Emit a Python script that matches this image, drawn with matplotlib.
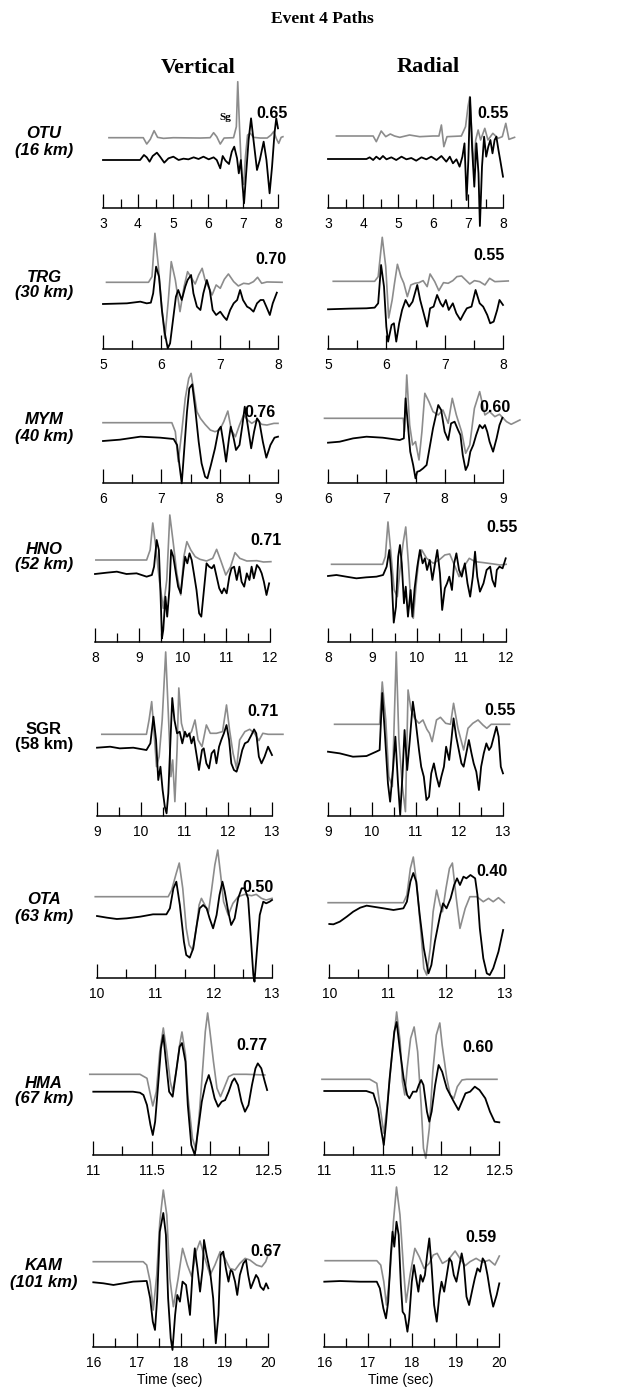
import matplotlib
matplotlib.use("Agg")
import matplotlib.pyplot as plt
from matplotlib import font_manager
import numpy as np

# ---- data -------------------------------------------------------------
stations = ["OTU", "TRG", "MYM", "HNO", "SGR", "OTA", "HMA", "KAM"]
dist_km = [16, 30, 40, 52, 58, 63, 67, 101]
cc_vertical = [0.65, 0.70, 0.76, 0.71, 0.71, 0.50, 0.77, 0.67]
cc_radial = [0.55, 0.55, 0.60, 0.55, 0.55, 0.40, 0.60, 0.59]
t_ranges = [(3, 8), (5, 8), (6, 9), (8, 12), (9, 13), (10, 13), (11, 12.5), (16, 20)]
tick_steps = [1, 1, 1, 1, 1, 1, 0.5, 1]

# synthetic (gray) and observed (black) traces, time in s, amplitude in counts
otu_z_syn_t = [3.17, 4.15, 4.25, 4.35, 4.46, 4.56, 4.73, 5.01, 5.78, 6.06, 6.16, 6.25, 6.35, 6.46, 6.73, 6.81,
               6.85, 6.90, 6.96, 7.02, 7.07, 7.13, 7.21, 7.30, 7.49, 7.69, 7.80, 7.88, 7.95, 8.02, 8.09, 8.14]
otu_z_syn_a = [0, 0, -19, -5, 21, 1, -2, 0, -1, 0, 15, 3, -19, -1, 0, 33,
               168, 33, -107, -140, -57, 8, 13, 1, -1, -1, 8, 19, -2, -17, 1, 3]
otu_z_obs_t = [3.00, 4.06, 4.17, 4.25, 4.33, 4.42, 4.54, 4.63, 4.75, 4.87, 5.01, 5.16, 5.30, 5.44, 5.59,
               5.73, 5.87, 6.02, 6.16, 6.25, 6.35, 6.42, 6.50, 6.60, 6.68, 6.75, 6.83, 6.88, 6.94, 6.99,
               7.03, 7.09, 7.16, 7.23, 7.30, 7.40, 7.48, 7.59, 7.67, 7.76, 7.83, 7.90, 7.95, 8.00]
otu_z_obs_a = [0, 0, 15, 8, -5, 12, 22, 10, -8, 5, 10, 0, 4, 2, 8,
               3, 10, 2, 8, 0, -25, 12, -2, -12, 25, 40, 5, -40, 0, -80,
               -130, -40, 60, 125, 60, -30, 0, 55, 0, -100, -20, 80, 125, 95]
otu_r_syn_t = [3.24, 4.29, 4.38, 4.52, 4.65, 4.78, 4.90, 5.05, 5.33, 5.62, 6.00, 6.17, 6.24, 6.31, 6.40, 6.81,
               6.93, 7.00, 7.05, 7.10, 7.16, 7.22, 7.29, 7.36, 7.48, 7.57, 7.71, 7.86, 7.98, 8.08, 8.17, 8.33]
otu_r_syn_a = [0, 0, -17, 15, -2, 6, 0, -4, 3, -2, 0, 0, 33, -32, -2, 0,
               28, 88, 118, 28, -92, -12, 18, -12, 23, -12, 8, -7, -2, 38, -10, -4]
otu_r_obs_t = [3.00, 4.10, 4.19, 4.29, 4.38, 4.48, 4.57, 4.67, 4.81, 4.95, 5.10, 5.24, 5.38, 5.52, 5.67,
               5.81, 5.95, 6.10, 6.24, 6.38, 6.48, 6.57, 6.67, 6.76, 6.84, 6.90, 6.96, 7.01, 7.06, 7.12,
               7.18, 7.24, 7.30, 7.34, 7.40, 7.46, 7.52, 7.58, 7.64, 7.70, 7.76, 7.81, 7.87, 7.92, 8.00]
otu_r_obs_a = [0, 0, 5, -3, 7, -1, 9, -1, 5, -3, 7, -1, 3, -5, 5,
               -1, 7, -3, 9, -8, 7, -13, -1, -23, 7, 47, -123, -3, 185, 27,
               -83, 47, -43, -201, -23, 67, 7, 37, 57, 17, 57, 67, 27, -3, -53]

trg_z_syn_t = [5.06, 5.78, 5.84, 5.89, 5.95, 6.01, 6.06, 6.12, 6.17, 6.24, 6.32, 6.39, 6.45, 6.52, 6.58, 6.64,
               6.70, 6.75, 6.81, 6.87, 6.94, 7.01, 7.08, 7.15, 7.24, 7.32, 7.41, 7.50, 7.58, 7.65, 7.72, 7.81, 8.07]
trg_z_syn_a = [0, 0, 17, 147, 47, -83, -168, -53, 62, 7, -88, -13, 32, 12, -5, 22,
               42, 7, -15, -38, -8, -18, 9, 25, 2, -11, -3, -5, 2, 15, -3, 1, 0]
trg_z_obs_t = [5.00, 5.41, 5.64, 5.75, 5.82, 5.86, 5.91, 5.96, 6.01, 6.06, 6.11, 6.15, 6.20, 6.25, 6.29,
               6.35, 6.41, 6.45, 6.51, 6.55, 6.61, 6.67, 6.72, 6.78, 6.83, 6.88, 6.94, 7.01, 7.07, 7.12,
               7.18, 7.24, 7.30, 7.35, 7.40, 7.47, 7.52, 7.58, 7.64, 7.70, 7.75, 7.80, 7.86, 7.91, 7.98]
trg_z_obs_a = [0, 2, 7, 2, 4, 32, 112, 82, -18, -88, -133, -118, -48, 22, 42,
               12, 52, 72, 87, 32, -8, -18, 32, 72, 42, -18, -33, -23, -38, -48,
               -18, 2, 12, 42, 12, -8, -13, -23, 2, 12, 12, -8, -33, 2, 34]
trg_r_syn_t = [5.09, 5.80, 5.86, 5.93, 5.99, 6.04, 6.10, 6.14, 6.19, 6.25, 6.30, 6.36, 6.42, 6.49, 6.56, 6.63,
               6.70, 6.75, 6.83, 6.90, 6.98, 7.06, 7.14, 7.21, 7.29, 7.36, 7.43, 7.51, 7.60, 7.69, 7.77, 7.86, 8.09]
trg_r_syn_a = [0, 0, 14, 132, 44, -110, -56, -6, 51, 14, -6, -46, -11, -6, -4, 2,
               -16, 22, -1, -28, -4, -6, 2, 14, 16, 4, -8, 2, -1, -11, 9, -1, 1]
trg_r_obs_t = [5.00, 5.37, 5.66, 5.80, 5.86, 5.91, 5.96, 6.00, 6.03, 6.09, 6.13, 6.17, 6.22, 6.27, 6.33,
               6.39, 6.45, 6.53, 6.58, 6.64, 6.70, 6.75, 6.81, 6.87, 6.93, 6.97, 7.02, 7.07, 7.14, 7.20,
               7.27, 7.33, 7.38, 7.46, 7.53, 7.60, 7.66, 7.73, 7.78, 7.84, 7.90, 7.94, 8.00]
trg_r_obs_a = [0, 2, 3, 5, 18, 133, 68, -52, -97, -47, -42, -97, -42, -2, 28,
               8, 23, 73, 28, -12, -52, 3, 8, 43, 18, 8, 28, -2, 18, -12,
               -32, -12, 3, 8, 58, 18, 8, -17, -42, -37, -2, 28, 13]

mym_z_syn_t = [6.00, 7.18, 7.24, 7.29, 7.35, 7.41, 7.47, 7.51, 7.55, 7.61, 7.67, 7.75, 7.84, 7.92,
               8.00, 8.07, 8.14, 8.20, 8.27, 8.34, 8.41, 8.48, 8.55, 8.64, 8.72, 8.81, 8.93, 9.00]
mym_z_syn_a = [0, 0, -27, -117, -27, 73, 133, 148, 103, 33, 13, -5, -22, -27,
               -22, 3, 35, -22, -42, -7, 23, 8, -2, 8, -5, -7, -2, -2]
mym_z_obs_t = [6.00, 6.29, 6.64, 6.98, 7.21, 7.27, 7.31, 7.35, 7.39, 7.44, 7.48, 7.53, 7.58, 7.64,
               7.69, 7.75, 7.79, 7.85, 7.92, 7.98, 8.02, 8.07, 8.11, 8.16, 8.19, 8.24, 8.28, 8.34,
               8.39, 8.43, 8.48, 8.54, 8.59, 8.64, 8.68, 8.74, 8.80, 8.87, 8.94, 9.00]
mym_z_obs_a = [0, 4, 13, 10, 6, -12, -72, -127, -32, 88, 158, 170, 98, -2,
               -67, -107, -112, -72, -22, 33, 43, -12, -62, 8, 43, 8, -27, -12,
               48, 103, 48, -22, 28, 68, 58, -2, -50, -12, 10, 13]
mym_r_syn_t = [5.94, 7.29, 7.31, 7.35, 7.40, 7.45, 7.50, 7.56, 7.61, 7.66, 7.73, 7.80, 7.89, 7.97, 8.06,
               8.13, 8.20, 8.29, 8.36, 8.43, 8.51, 8.60, 8.69, 8.77, 8.86, 8.94, 9.06, 9.14, 9.29]
mym_r_syn_a = [0, 0, -40, 130, -20, -80, -70, -125, -40, 75, 50, 20, 10, 25, -15,
               60, 10, -40, -105, -80, 30, 80, 10, 20, 5, 12, -10, -18, -5]
mym_r_obs_t = [6.00, 6.20, 6.43, 6.66, 6.94, 7.23, 7.30, 7.33, 7.37, 7.41, 7.46, 7.50, 7.53, 7.57,
               7.63, 7.69, 7.74, 7.80, 7.89, 7.94, 8.00, 8.06, 8.11, 8.17, 8.23, 8.27, 8.31, 8.36,
               8.40, 8.44, 8.49, 8.54, 8.60, 8.65, 8.69, 8.73, 8.77, 8.83, 8.89, 8.94, 8.99]
mym_r_obs_a = [0, 3, 13, 18, 15, 8, 13, 133, 53, -27, -67, -107, -87, -85,
               -77, -67, -17, 43, 113, 98, 33, 8, 58, 63, 38, 23, -37, -82,
               -67, -27, -7, 23, 53, 43, 53, 33, 3, -27, 13, 53, 75]

hno_z_syn_t = [8.02, 9.18, 9.26, 9.32, 9.39, 9.47, 9.56, 9.64, 9.71, 9.79, 9.87, 9.96, 10.03, 10.10, 10.19,
               10.29, 10.40, 10.55, 10.69, 10.78, 10.87, 10.99, 11.10, 11.20, 11.31, 11.47, 11.70, 11.85, 12.02]
hno_z_syn_a = [0, 0, 30, 111, 40, -60, -145, -60, 135, 50, -40, -105, 10, 55, 30,
               10, 2, -3, 5, 32, 0, -45, -20, 22, 5, -3, -2, -6, -5]
hno_z_obs_t = [8.00, 8.27, 8.50, 8.72, 8.95, 9.18, 9.30, 9.35, 9.41, 9.46, 9.50, 9.53, 9.56, 9.61, 9.65,
               9.70, 9.74, 9.79, 9.85, 9.90, 9.96, 10.02, 10.06, 10.11, 10.16, 10.21, 10.26, 10.32, 10.38,
               10.43, 10.49, 10.55, 10.61, 10.67, 10.72, 10.78, 10.84, 10.90, 10.95, 11.01, 11.07, 11.12,
               11.18, 11.24, 11.30, 11.35, 11.41, 11.47, 11.53, 11.58, 11.63, 11.70, 11.76, 11.81, 11.86,
               11.92, 11.98]
hno_z_obs_a = [0, 4, 7, 0, 2, -8, -3, 22, 102, 72, -68, -193, -168, -68, -128,
               -48, 72, 52, 2, -38, -58, 12, 52, 32, 62, 42, 2, -48, -118,
               -128, -48, 32, 22, 17, 27, -8, -43, -58, -43, -58, -8, 17,
               22, -18, 22, -23, -38, 2, -18, 22, -13, 27, 17, 2, -23,
               -63, -28]
hno_r_syn_t = [8.08, 9.23, 9.29, 9.35, 9.41, 9.49, 9.56, 9.62, 9.69, 9.75, 9.81, 9.87, 9.92, 9.98, 10.05,
               10.11, 10.22, 10.37, 10.52, 10.63, 10.74, 10.86, 10.95, 11.06, 11.18, 11.31, 11.50, 11.72,
               11.87, 12.01]
hno_r_syn_a = [0, 0, 23, 127, 43, -77, -97, -17, 63, 112, 3, -127, -162, -67, 23,
               43, 18, 3, 15, 28, 31, -7, -37, -7, 18, 8, 5, 1,
               -2, 0]
hno_r_obs_t = [8.00, 8.19, 8.41, 8.64, 8.86, 9.09, 9.24, 9.32, 9.38, 9.43, 9.48, 9.53, 9.58, 9.62, 9.66,
               9.71, 9.75, 9.80, 9.86, 9.90, 9.95, 10.01, 10.07, 10.13, 10.18, 10.23, 10.29, 10.35, 10.41,
               10.46, 10.52, 10.57, 10.63, 10.68, 10.73, 10.79, 10.84, 10.89, 10.95, 11.01, 11.08, 11.14,
               11.20, 11.26, 11.31, 11.36, 11.42, 11.50, 11.57, 11.65, 11.70, 11.76, 11.80, 11.86, 11.93,
               12.00]
hno_r_obs_a = [0, 3, -2, -7, -4, -2, 3, 28, 78, -2, -140, -92, 58, 93, 38,
               -82, -32, -122, -42, -122, -37, 28, 78, 38, 53, 18, 48, -12, 38,
               78, 8, -102, -37, -22, -2, -42, 38, 68, 18, -2, 38, -22,
               -62, -2, 73, -2, -47, -22, 18, 28, -12, -32, 18, 28, 23,
               53]

sgr_z_syn_t = [9.11, 10.13, 10.19, 10.25, 10.30, 10.36, 10.42, 10.49, 10.57, 10.63, 10.69, 10.73, 10.78,
               10.83, 10.87, 10.93, 11.01, 11.08, 11.16, 11.24, 11.31, 11.40, 11.50, 11.59, 11.73, 11.87,
               11.96, 12.03, 12.11, 12.19, 12.26, 12.38, 12.49, 12.60, 12.70, 12.79, 12.91, 13.25]
sgr_z_syn_a = [0, 0, 43, 98, 13, -97, -67, 43, 247, 63, -127, -77, -202,
               -47, 139, 33, -7, -5, 8, 43, -17, -37, 28, 3, 3, 8,
               88, 13, -57, -102, -17, 8, 15, 3, -19, 3, 0, 0]
sgr_z_obs_t = [9.00, 9.30, 9.52, 9.83, 10.13, 10.22, 10.29, 10.35, 10.40, 10.45, 10.50, 10.55, 10.59,
               10.63, 10.67, 10.72, 10.77, 10.83, 10.89, 10.95, 11.01, 11.06, 11.11, 11.16, 11.21, 11.27,
               11.33, 11.40, 11.44, 11.50, 11.56, 11.62, 11.68, 11.73, 11.79, 11.84, 11.90, 11.96, 12.02,
               12.07, 12.13, 12.19, 12.25, 12.32, 12.38, 12.45, 12.53, 12.59, 12.64, 12.70, 12.76, 12.83,
               12.91, 13.00]
sgr_z_obs_a = [0, 3, -2, 0, -7, 13, 93, 23, -97, -57, -127, -177, -197,
               -137, -7, 149, 83, 43, 48, 13, 48, 33, 43, 13, 33, -17,
               -67, -7, -2, -47, -62, -17, -7, -47, 3, 23, 43, 68, 23,
               -47, -67, -72, -47, -7, 13, 18, 38, 55, 43, -27, -47, -27,
               3, -22]
sgr_r_syn_t = [9.15, 10.18, 10.24, 10.32, 10.39, 10.47, 10.56, 10.62, 10.70, 10.77, 10.83, 10.90, 10.98,
               11.08, 11.17, 11.26, 11.32, 11.38, 11.48, 11.57, 11.69, 11.80, 11.87, 11.97, 12.10, 12.20,
               12.31, 12.43, 12.54, 12.63, 12.73, 13.15]
sgr_r_syn_a = [0, 0, 127, 13, -157, -187, 217, -47, -187, -262, 103, 43, 18,
               3, 13, -15, -27, -52, 13, 21, 3, 0, 63, -12, -77, -12,
               3, 13, -2, -12, 0, 0]
sgr_r_obs_t = [9.00, 9.27, 9.57, 9.88, 10.10, 10.18, 10.24, 10.30, 10.37, 10.42, 10.49, 10.54, 10.60,
               10.65, 10.70, 10.75, 10.81, 10.87, 10.94, 11.00, 11.08, 11.13, 11.19, 11.25, 11.31, 11.36,
               11.42, 11.48, 11.54, 11.59, 11.65, 11.70, 11.77, 11.82, 11.87, 11.93, 11.99, 12.05, 12.10,
               12.16, 12.22, 12.28, 12.33, 12.39, 12.45, 12.50, 12.56, 12.62, 12.68, 12.73, 12.79, 12.85,
               12.90, 12.95, 13.00]
sgr_r_obs_a = [0, -5, -15, -13, 0, 5, 176, 55, -95, -150, -45, 45, -95,
               -190, -75, 65, -55, 35, 150, 95, 5, -45, -75, -145, -135, -65,
               -35, -75, -105, -75, -45, 15, -25, 35, 100, 45, 5, -35, -45,
               -5, 35, -5, -35, -60, -115, -45, -5, 25, 5, 15, 45, 75,
               45, -45, -65]

ota_z_syn_t = [9.97, 11.22, 11.28, 11.35, 11.41, 11.47, 11.53, 11.58, 11.64, 11.71, 11.75, 11.79, 11.85,
               11.91, 11.96, 12.02, 12.07, 12.12, 12.17, 12.25, 12.33, 12.42, 12.53, 12.65, 12.73, 12.82,
               12.90, 13.00]
ota_z_syn_a = [0, 0, 20, 65, 101, 25, -95, -145, -160, -85, -25, -5, -25,
               -47, 15, 95, 140, 65, -15, -55, -20, 0, 7, 3, 7, -5,
               -10, -5]
ota_z_obs_t = [10.00, 10.17, 10.34, 10.51, 10.74, 10.96, 11.19, 11.25, 11.31, 11.36, 11.42, 11.49, 11.53,
               11.59, 11.65, 11.71, 11.76, 11.82, 11.88, 11.93, 11.99, 12.05, 12.10, 12.15, 12.19, 12.25,
               12.30, 12.36, 12.42, 12.48, 12.53, 12.59, 12.63, 12.68, 12.70, 12.74, 12.79, 12.85, 12.90,
               12.96, 13.00]
ota_z_obs_a = [0, -5, -9, -7, -2, 5, 5, 23, 83, 103, 33, -77, -117,
               -125, -97, -27, 23, 33, 23, -7, -37, 3, 63, 103, 73, 13,
               -27, -7, 53, 83, 83, 53, -47, -177, -197, -107, 3, 43, 38,
               43, 48]
ota_r_syn_t = [9.98, 11.27, 11.33, 11.39, 11.44, 11.50, 11.57, 11.62, 11.67, 11.73, 11.78, 11.84, 11.90,
               11.94, 12.00, 12.06, 12.11, 12.17, 12.24, 12.33, 12.41, 12.53, 12.64, 12.73, 12.81, 12.90,
               13.00]
ota_r_syn_a = [0, 0, 23, 103, 137, 53, -87, -197, -217, -137, -27, 38, -7,
               -27, 43, 103, 119, 23, -77, -17, 18, 18, 3, 13, 3, 15,
               0]
ota_r_obs_t = [10.00, 10.07, 10.18, 10.30, 10.41, 10.53, 10.64, 10.75, 10.93, 11.10, 11.27, 11.33, 11.39,
               11.44, 11.49, 11.55, 11.62, 11.70, 11.75, 11.81, 11.90, 11.95, 12.01, 12.08, 12.14, 12.19,
               12.24, 12.30, 12.35, 12.42, 12.50, 12.54, 12.58, 12.64, 12.70, 12.75, 12.81, 12.90, 12.98]
ota_r_obs_a = [0, -1, 7, 22, 37, 49, 55, 52, 47, 42, 47, 67, 127,
               153, 127, 27, -73, -148, -123, -53, 27, 62, 47, 77, 117, 137,
               117, 142, 137, 147, 137, 87, -13, -103, -148, -153, -133, -83, -18]

hma_z_syn_t = [10.97, 11.40, 11.46, 11.49, 11.51, 11.54, 11.57, 11.60, 11.63, 11.66, 11.68, 11.71, 11.74,
               11.76, 11.79, 11.81, 11.85, 11.88, 11.91, 11.94, 11.96, 11.98, 12.00, 12.03, 12.06, 12.09,
               12.12, 12.16, 12.20, 12.31, 12.47]
hma_z_syn_a = [0, 0, -12, -62, -95, -52, 68, 139, 68, -22, -52, 8, 88,
               127, 58, -62, -192, -227, -112, 28, 128, 184, 128, 38, -42, -67,
               -42, -7, 0, 0, -2]
hma_z_obs_t = [11.00, 11.34, 11.40, 11.43, 11.46, 11.49, 11.51, 11.53, 11.56, 11.58, 11.60, 11.62, 11.65,
               11.68, 11.71, 11.74, 11.76, 11.79, 11.81, 11.84, 11.87, 11.90, 11.93, 11.96, 11.99, 12.01,
               12.04, 12.07, 12.10, 12.13, 12.16, 12.19, 12.21, 12.24, 12.27, 12.30, 12.33, 12.36, 12.39,
               12.41, 12.44, 12.47, 12.49]
hma_z_obs_a = [0, 0, -3, -10, -40, -100, -130, -90, 40, 130, 170, 100, 0,
               -15, 60, 135, 146, 90, -40, -160, -190, -110, -30, 20, 50, 25,
               -20, -45, -30, -25, 0, 30, 40, 20, -30, -60, -40, 20, 70,
               85, 70, 30, 5]
hma_r_syn_t = [10.98, 11.39, 11.45, 11.48, 11.51, 11.54, 11.58, 11.62, 11.65, 11.67, 11.69, 11.71, 11.74,
               11.77, 11.80, 11.83, 11.85, 11.87, 11.90, 11.93, 11.96, 11.99, 12.01, 12.05, 12.08, 12.11,
               12.14, 12.18, 12.22, 12.48]
hma_r_syn_a = [0, 0, -12, -87, -162, -77, 73, 202, 113, -7, -47, 33, 123,
               157, 83, -77, -207, -237, -147, 23, 133, 169, 103, 3, -47, -57,
               -22, -2, 0, 0]
hma_r_obs_t = [11.00, 11.36, 11.42, 11.46, 11.49, 11.51, 11.53, 11.56, 11.60, 11.62, 11.65, 11.68, 11.71,
               11.73, 11.76, 11.79, 11.81, 11.83, 11.85, 11.88, 11.90, 11.92, 11.95, 11.98, 12.01, 12.05,
               12.08, 12.11, 12.15, 12.18, 12.21, 12.25, 12.29, 12.33, 12.38, 12.42, 12.46, 12.50]
hma_r_obs_a = [0, 0, -7, -52, -122, -162, -92, 38, 178, 207, 118, 38, -12,
               -22, -2, -2, 18, 33, 18, -62, -92, -62, 18, 78, 58, 8,
               -12, -32, -57, -32, -7, -2, 13, 3, -22, -62, -92, -94]

kam_z_syn_t = [16.00, 17.14, 17.22, 17.30, 17.37, 17.45, 17.52, 17.60, 17.68, 17.75, 17.83, 17.94, 18.04,
               18.15, 18.25, 18.35, 18.44, 18.55, 18.67, 18.78, 18.90, 19.01, 19.12, 19.24, 19.35, 19.47,
               19.58, 19.73, 19.85, 19.94, 20.00]
kam_z_syn_a = [0, 0, -10, -60, -145, -40, 120, 215, 140, -50, -135, -50, 40,
               -10, -45, 30, 62, 10, -40, -10, 30, 10, -20, -25, -5, 10,
               5, -10, -15, 0, 22]
kam_z_obs_t = [16.00, 16.23, 16.46, 16.69, 16.91, 17.22, 17.30, 17.36, 17.41, 17.46, 17.52, 17.60, 17.66,
               17.71, 17.77, 17.81, 17.87, 17.92, 17.98, 18.04, 18.12, 18.17, 18.21, 18.27, 18.32, 18.38,
               18.44, 18.50, 18.53, 18.59, 18.67, 18.74, 18.80, 18.86, 18.91, 18.97, 19.03, 19.09, 19.14,
               19.18, 19.24, 19.29, 19.35, 19.43, 19.49, 19.54, 19.60, 19.66, 19.72, 19.77, 19.82, 19.89,
               19.95, 20.00]
kam_z_obs_a = [0, -3, -8, -3, 2, 4, -48, -118, -143, -48, 152, 208, 142,
               -48, -168, -203, -98, -38, -58, 2, -8, -58, -98, 32, 102, 42,
               -28, 42, 127, 82, 32, -48, -183, -98, 82, 92, 42, 2, 37,
               32, 2, -38, 22, 57, 67, 22, -18, 2, 22, 12, -13, -23,
               -3, -18]
kam_r_syn_t = [16.02, 17.20, 17.29, 17.36, 17.42, 17.50, 17.58, 17.65, 17.73, 17.81, 17.87, 17.96, 18.07,
               18.17, 18.28, 18.40, 18.49, 18.58, 18.70, 18.83, 18.99, 19.10, 19.22, 19.33, 19.47, 19.62,
               19.77, 19.90, 20.00]
kam_r_syn_a = [0, 0, -13, -63, -133, -43, 117, 221, 137, -23, -125, -43, 37,
               12, -23, -8, 17, 22, -8, 2, 29, 7, -15, -3, 7, -5,
               2, -13, 14]
kam_r_obs_t = [16.00, 16.36, 16.82, 17.20, 17.27, 17.35, 17.41, 17.46, 17.52, 17.56, 17.60, 17.65, 17.70,
               17.75, 17.79, 17.84, 17.90, 17.94, 18.00, 18.05, 18.10, 18.15, 18.20, 18.25, 18.30, 18.35,
               18.40, 18.45, 18.51, 18.57, 18.63, 18.68, 18.74, 18.80, 18.86, 18.91, 18.96, 19.02, 19.09,
               19.14, 19.19, 19.25, 19.31, 19.39, 19.44, 19.50, 19.56, 19.62, 19.67, 19.73, 19.79, 19.86,
               19.94, 20.00]
kam_r_obs_a = [0, 2, 0, 0, -20, -80, -110, -60, 80, 150, 105, 180, 140,
               -10, -90, -100, -150, -110, 0, 50, 10, -30, 20, 0, 20, 80,
               130, 50, -70, -120, -40, 0, -30, 20, 70, 60, 20, 0, 50,
               85, 50, -45, -70, -20, 10, 40, 30, 70, 60, 20, -30, -75,
               -40, -5]

vertical_traces = [
    (otu_z_syn_t, otu_z_syn_a, otu_z_obs_t, otu_z_obs_a),
    (trg_z_syn_t, trg_z_syn_a, trg_z_obs_t, trg_z_obs_a),
    (mym_z_syn_t, mym_z_syn_a, mym_z_obs_t, mym_z_obs_a),
    (hno_z_syn_t, hno_z_syn_a, hno_z_obs_t, hno_z_obs_a),
    (sgr_z_syn_t, sgr_z_syn_a, sgr_z_obs_t, sgr_z_obs_a),
    (ota_z_syn_t, ota_z_syn_a, ota_z_obs_t, ota_z_obs_a),
    (hma_z_syn_t, hma_z_syn_a, hma_z_obs_t, hma_z_obs_a),
    (kam_z_syn_t, kam_z_syn_a, kam_z_obs_t, kam_z_obs_a),
]
radial_traces = [
    (otu_r_syn_t, otu_r_syn_a, otu_r_obs_t, otu_r_obs_a),
    (trg_r_syn_t, trg_r_syn_a, trg_r_obs_t, trg_r_obs_a),
    (mym_r_syn_t, mym_r_syn_a, mym_r_obs_t, mym_r_obs_a),
    (hno_r_syn_t, hno_r_syn_a, hno_r_obs_t, hno_r_obs_a),
    (sgr_r_syn_t, sgr_r_syn_a, sgr_r_obs_t, sgr_r_obs_a),
    (ota_r_syn_t, ota_r_syn_a, ota_r_obs_t, ota_r_obs_a),
    (hma_r_syn_t, hma_r_syn_a, hma_r_obs_t, hma_r_obs_a),
    (kam_r_syn_t, kam_r_syn_a, kam_r_obs_t, kam_r_obs_a),
]

# ---- layout (pixels from top-left) ------------------------------------
W, H = 632, 1389
AMP = 3.0  # counts per pixel
# axis line y, left panel x range, right panel x range, (syn, obs) baselines left / right
rows_px = [
    (207.5, (103, 278), (328, 503), (137.7, 160.0), (136.0, 159.0)),
    (349.0, (103, 278), (328, 503), (282.3, 304.0), (281.3, 309.3)),
    (482.7, (103, 278), (328, 503), (422.7, 441.0), (418.3, 442.7)),
    (641.5, (95, 270), (328, 505.7), (560.0, 574.0), (564.3, 576.0)),
    (816.0, (97, 272), (328, 503), (734.3, 747.7), (724.3, 751.7)),
    (977.7, (97, 272), (329.3, 504.3), (896.7, 916.0), (902.7, 924.0)),
    (1155.0, (93.3, 268.3), (324.3, 499.3), (1074.3, 1091.7), (1079.3, 1091.0)),
    (1346.7, (93.3, 268.3), (324.3, 499.3), (1261.7, 1282.3), (1260.7, 1281.7)),
]
label_y = [(133, 150), (278, 293), (420, 437), (549, 565), (729, 745), (900, 917), (1083, 1098), (1265, 1282)]
val_left = [(272, 113), (271, 259), (260, 412), (266, 540), (263, 712), (258, 887), (252, 1045), (266, 1252)]
val_right = [(493, 113), (489, 255), (495, 407), (502, 528), (500, 710), (492, 872), (478, 1047), (481, 1237)]

installed = {f.name for f in font_manager.fontManager.ttflist}
if "Liberation Sans Narrow" in installed:
    NARROW, NARROW_SIZE = ["Liberation Sans Narrow"], 11
else:
    NARROW, NARROW_SIZE = ["Liberation Sans"], 10
SANS = ["Liberation Sans", "DejaVu Sans"]
SERIF = ["Liberation Serif", "DejaVu Serif"]

fig = plt.figure(figsize=(W / 100, H / 100), dpi=100)


def fx(x):
    return x / W


def fy(y):
    return 1 - y / H


def panel(ax_y, xr, base, trange, step, traces):
    x0, x1 = xr
    t0, t1 = trange
    pxs = (x1 - x0) / (t1 - t0)
    padl, padr, top, bot = 15, 35, 150, 30
    ax = fig.add_axes([fx(x0 - padl), fy(ax_y + bot), (x1 - x0 + padl + padr) / W, (top + bot) / H])
    ax.set_xlim(t0 - padl / pxs, t1 + padr / pxs)
    ax.set_ylim(-bot * AMP, top * AMP)
    ax.patch.set_visible(False)
    syn_t, syn_a, obs_t, obs_a = traces
    g_off = (ax_y - base[0]) * AMP
    b_off = (ax_y - base[1]) * AMP
    ax.plot(syn_t, np.array(syn_a) + g_off, color="#8c8c8c", lw=1.2, clip_on=False,
            solid_joinstyle="round")
    ax.plot(obs_t, np.array(obs_a) + b_off, color="black", lw=1.3, clip_on=False,
            solid_joinstyle="round")
    for s in ["left", "right", "top"]:
        ax.spines[s].set_visible(False)
    ax.spines["bottom"].set_position(("data", 0))
    ax.spines["bottom"].set_bounds(t0, t1)
    ax.spines["bottom"].set_linewidth(1.1)
    ax.set_yticks([])
    major = np.arange(t0, t1 + 1e-6, step)
    ax.set_xticks(major)
    ax.set_xticks(np.arange(t0 + step / 2, t1, step), minor=True)
    ax.set_xticklabels(["%g" % v for v in major])
    ax.tick_params(which="major", direction="in", length=10, width=0.9, pad=6.5,
                   labelsize=NARROW_SIZE, labelfontfamily=NARROW)
    ax.tick_params(which="minor", direction="in", length=6.5, width=0.9)
    return ax


for i in range(len(stations)):
    ax_y, xl, xr, bl, br = rows_px[i]
    panel(ax_y, xl, bl, t_ranges[i], tick_steps[i], vertical_traces[i])
    panel(ax_y, xr, br, t_ranges[i], tick_steps[i], radial_traces[i])

    style = "normal" if stations[i] == "SGR" else "italic"
    fig.text(fx(44), fy(label_y[i][0]), stations[i], ha="center", va="center", fontsize=12,
             fontweight="bold", fontstyle=style, family=SANS)
    fig.text(fx(44), fy(label_y[i][1]), "(%d km)" % dist_km[i], ha="center", va="center", fontsize=12,
             fontweight="bold", fontstyle=style, family=SANS)
    fig.text(fx(val_left[i][0]), fy(val_left[i][1]), "%.2f" % cc_vertical[i], ha="center", va="center",
             fontsize=11.5, fontweight="bold", family=SANS)
    fig.text(fx(val_right[i][0]), fy(val_right[i][1]), "%.2f" % cc_radial[i], ha="center", va="center",
             fontsize=11.5, fontweight="bold", family=SANS)

fig.text(fx(322), fy(19), "Event 4 Paths", ha="center", va="center", fontsize=12.5,
         fontweight="bold", family=SERIF)
fig.text(fx(198), fy(68), "Vertical", ha="center", va="center", fontsize=16, fontweight="bold", family=SERIF)
fig.text(fx(428), fy(67), "Radial", ha="center", va="center", fontsize=16, fontweight="bold", family=SERIF)
fig.text(fx(225), fy(117), "Sg", ha="center", va="center", fontsize=8, fontweight="bold", family=SERIF)
fig.text(fx(170), fy(1380), "Time (sec)", ha="center", va="center", fontsize=NARROW_SIZE, family=NARROW)
fig.text(fx(401), fy(1380), "Time (sec)", ha="center", va="center", fontsize=NARROW_SIZE, family=NARROW)

fig.savefig("out.png", dpi=100, facecolor="white")
